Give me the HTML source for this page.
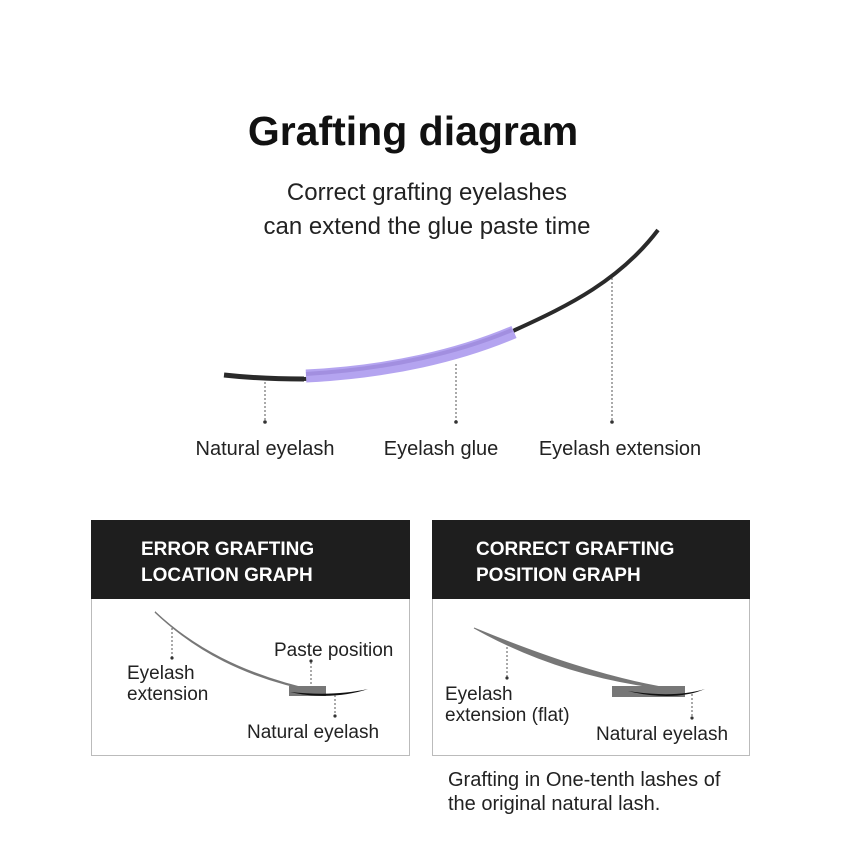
<!DOCTYPE html>
<html><head><meta charset="utf-8"><style>
html,body{margin:0;padding:0;background:#fff;}
svg{display:block;font-family:"Liberation Sans",sans-serif;}
</style></head><body>
<svg width="849" height="849" viewBox="0 0 849 849" xmlns="http://www.w3.org/2000/svg">
<rect width="849" height="849" fill="#fff"/>
<text x="413" y="145" text-anchor="middle" font-size="41" font-weight="bold" fill="#111">Grafting diagram</text>
<text x="427" y="200" text-anchor="middle" font-size="24" fill="#222">Correct grafting eyelashes</text>
<text x="427" y="234" text-anchor="middle" font-size="24" fill="#222">can extend the glue paste time</text>
<!-- main lash -->
<path d="M224,375 Q260,379 304,379" stroke="#2a2a2a" stroke-width="5" fill="none"/>
<path d="M304,379 C400,376 470,355 515,330 C570,305 620,280 658,230" stroke="#2a2a2a" stroke-width="4" fill="none"/>
<path d="M306,376 C390,372 460,355 514,332" stroke="#b4a4f0" stroke-width="13" fill="none"/>
<path d="M306,374 C390,369 460,352 512,330" stroke="#9a86d8" stroke-width="4" fill="none" opacity="0.7"/>
<g stroke="#555" stroke-width="1" stroke-dasharray="2,2">
<line x1="265" y1="382" x2="265" y2="421"/>
<line x1="456" y1="364" x2="456" y2="421"/>
<line x1="612" y1="278" x2="612" y2="421"/>
</g>
<g fill="#333"><circle cx="265" cy="422" r="1.8"/><circle cx="456" cy="422" r="1.8"/><circle cx="612" cy="422" r="1.8"/></g>
<g font-size="20" fill="#222" text-anchor="middle">
<text x="265" y="455">Natural eyelash</text>
<text x="441" y="455">Eyelash glue</text>
<text x="620" y="455">Eyelash extension</text>
</g>
<!-- left box -->
<rect x="91.5" y="598.5" width="318" height="157" fill="#fff" stroke="#bbb"/>
<rect x="91" y="520" width="319" height="79" fill="#1e1e1e"/>
<text x="141" y="555" font-size="19" font-weight="bold" fill="#fff">ERROR GRAFTING</text>
<text x="141" y="581" font-size="19" font-weight="bold" fill="#fff">LOCATION GRAPH</text>
<path d="M155,612 C190,645 240,675 320,692 C245,678 195,650 155,612Z" stroke="#777" stroke-width="1.5" fill="#777"/>
<rect x="289" y="686" width="37" height="10" fill="#777"/>
<path d="M290,692 C320,695 345,694 368,689 C345,697 315,698 290,692Z" fill="#111"/>
<g stroke="#555" stroke-width="1" stroke-dasharray="2,2">
<line x1="172" y1="628" x2="172" y2="657"/>
<line x1="311" y1="662" x2="311" y2="686"/>
<line x1="335" y1="695" x2="335" y2="716"/>
</g>
<g fill="#333"><circle cx="172" cy="658" r="1.6"/><circle cx="311" cy="661" r="1.6"/><circle cx="335" cy="716" r="1.6"/></g>
<g font-size="19" fill="#222">
<text x="127" y="679">Eyelash</text>
<text x="127" y="700">extension</text>
<text x="274" y="656">Paste position</text>
<text x="247" y="738">Natural eyelash</text>
</g>
<!-- right box -->
<rect x="432.5" y="598.5" width="317" height="157" fill="#fff" stroke="#bbb"/>
<rect x="432" y="520" width="318" height="79" fill="#1e1e1e"/>
<text x="476" y="555" font-size="19" font-weight="bold" fill="#fff">CORRECT GRAFTING</text>
<text x="476" y="581" font-size="19" font-weight="bold" fill="#fff">POSITION GRAPH</text>
<path d="M474,628 C540,655 610,680 680,690 C610,684 540,665 474,628Z" stroke="#777" stroke-width="1" fill="#777"/>
<rect x="612" y="686" width="73" height="11" fill="#777"/>
<path d="M628,691 C660,696 685,695 705,689 C685,698 655,698 628,691Z" fill="#111"/>
<g stroke="#555" stroke-width="1" stroke-dasharray="2,2">
<line x1="507" y1="647" x2="507" y2="677"/>
<line x1="692" y1="694" x2="692" y2="718"/>
</g>
<g fill="#333"><circle cx="507" cy="678" r="1.6"/><circle cx="692" cy="718" r="1.6"/></g>
<g font-size="19" fill="#222">
<text x="445" y="700">Eyelash</text>
<text x="445" y="721">extension (flat)</text>
<text x="596" y="740">Natural eyelash</text>
</g>
<text x="448" y="786" font-size="20" fill="#222">Grafting in One-tenth lashes of</text>
<text x="448" y="810" font-size="20" fill="#222">the original natural lash.</text>
</svg>
</body></html>
